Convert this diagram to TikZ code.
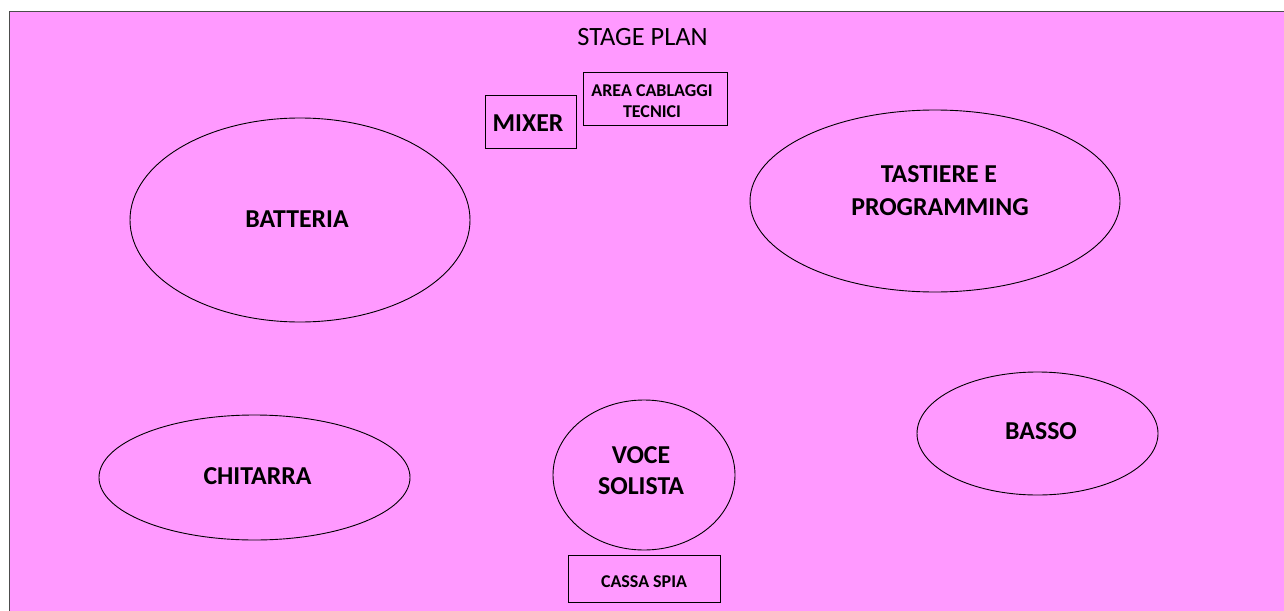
\documentclass[tikz,border=0pt]{standalone}
\usepackage{fontspec}
\setmainfont{Carlito}
\definecolor{stagepink}{RGB}{255,153,255}
\tikzset{
  zone/.style={draw=black, line width=0.9pt, ellipse, inner sep=0pt},
  boxzone/.style={draw=black, line width=0.9pt, rectangle, inner sep=0pt},
  lbl/.style={anchor=base, inner sep=0pt, font=\fontsize{25.8}{30}\selectfont\bfseries},
  smalllbl/.style={anchor=base, inner sep=0pt, font=\fontsize{18}{21}\selectfont\bfseries},
  titlelbl/.style={anchor=base, inner sep=0pt, font=\fontsize{26.4}{30}\selectfont},
}
\usetikzlibrary{shapes.geometric}
\begin{document}
\begin{tikzpicture}[x=1pt,y=-1pt]
\useasboundingbox (0,0) rectangle (1284,610);
\fill[white] (0,0) rectangle (1284,610);
\draw[fill=stagepink, draw=black!70, line width=1pt] (9,12) rectangle (1300,625);
\node[titlelbl] (title) at (642.5,46) {STAGE PLAN};
% ellipses
\node[zone, minimum width=340pt, minimum height=204pt] (batteria) at (300,220) {};
\node[lbl] (batterialbl) at (297,227) {BATTERIA};
\node[zone, minimum width=370pt, minimum height=182pt] (tastiere) at (935,201) {};
\node[lbl] (tastiere1) at (939,182) {TASTIERE E};
\node[lbl] (tastiere2) at (940,215) {PROGRAMMING};
\node[zone, minimum width=241pt, minimum height=123pt] (basso) at (1037.5,433.5) {};
\node[lbl] (bassolbl) at (1041,439) {BASSO};
\node[zone, minimum width=311pt, minimum height=125pt] (chitarra) at (254.5,477.5) {};
\node[lbl] (chitarralbl) at (257.5,484) {CHITARRA};
\node[zone, minimum width=182pt, minimum height=150pt] (voce) at (644,475) {};
\node[lbl] (voce1) at (641,463) {VOCE};
\node[lbl] (voce2) at (641,494) {SOLISTA};
% boxes
\node[boxzone, minimum width=91pt, minimum height=53pt] (mixer) at (531,121.5) {};
\node[lbl] (mixerlbl) at (528,131) {MIXER};
\node[boxzone, minimum width=144.5pt, minimum height=53pt] (area) at (655.5,98.5) {};
\node[smalllbl] (area1) at (652,96) {AREA CABLAGGI};
\node[smalllbl] (area2) at (652,117) {TECNICI};
\node[boxzone, minimum width=152pt, minimum height=46.5pt] (cassa) at (644,579) {};
\node[smalllbl] (cassalbl) at (644,587) {CASSA SPIA};
\end{tikzpicture}
\end{document}
